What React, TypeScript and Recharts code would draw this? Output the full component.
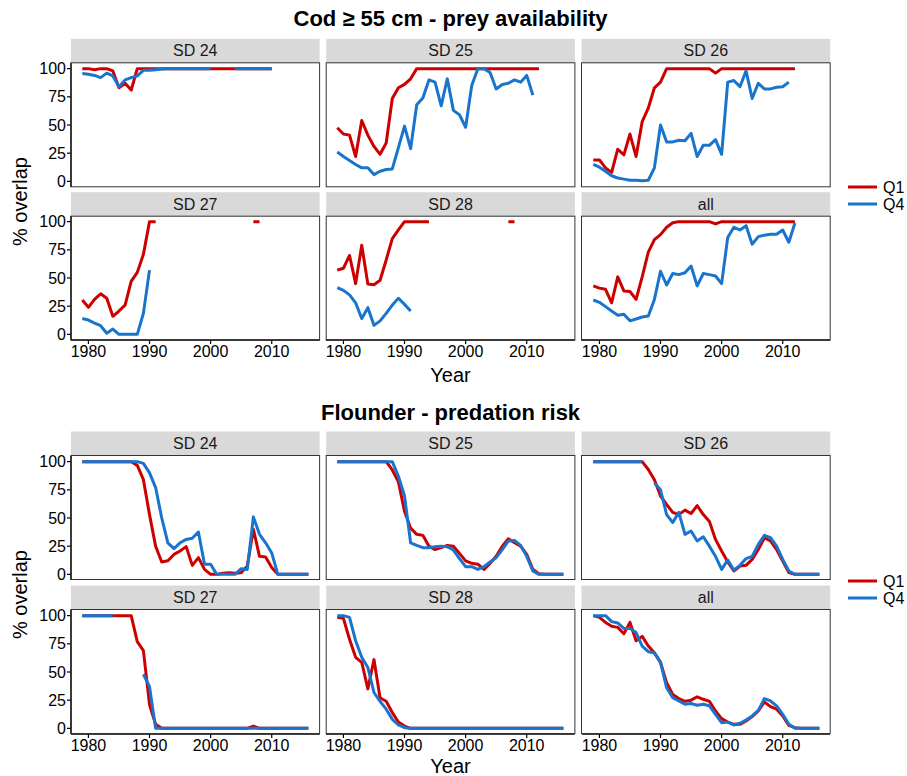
import React from 'react';
import { LineChart, Line, XAxis, YAxis } from 'recharts';

const N = null;

const YEARS = [
  1979, 1980, 1981, 1982, 1983, 1984, 1985, 1986, 1987, 1988,
  1989, 1990, 1991, 1992, 1993, 1994, 1995, 1996, 1997, 1998,
  1999, 2000, 2001, 2002, 2003, 2004, 2005, 2006, 2007, 2008,
  2009, 2010, 2011, 2012, 2013, 2014, 2015, 2016,
];

const FACETS = ['SD 24', 'SD 25', 'SD 26', 'SD 27', 'SD 28', 'all'];
const SERIES_NAMES = ['Q1', 'Q4'];
const X_TICKS = [1980, 1990, 2000, 2010];
const Y_TICKS = [0, 25, 50, 75, 100];
const TITLES = ['Cod \u2265 55 cm - prey availability', 'Flounder - predation risk'];

// ---- Cod >= 55 cm - prey availability (1979..2016) ----
const COD_SD24_Q1 = [100, 100, 99, 100, 100, 98, 83, 87, 81, 100, 100, 100, 100, 100, 100, 100, 100, 100, 100, 100, 100, 100, 100, 100, 100, 100, 100, 100, 100, 100, 100, 100, N, N, N, N, N, N];
const COD_SD24_Q4 = [95.6, 95, 94, 92, 96, 93.5, 84, 90, 92, 93.5, 98.5, 98.5, 99, 99.7, 100, 100, 100, 100, 100, 100, 100, 100, N, N, N, 100, 100, 100, 100, 100, 100, 100, N, N, N, N, N, N];
const COD_SD25_Q1 = [47.6, 42, 41, 22, 54, 41, 31, 24, 34, 73.5, 83, 86, 91, 100, 100, 100, 100, 100, 100, 100, 100, 100, 100, 100, 100, 100, 100, 100, 100, 100, 100, 100, 100, 100, N, N, N, N];
const COD_SD25_Q4 = [26, 22, 18.5, 15, 12, 12, 6, 9, 10.5, 11, 30, 49, 29, 68, 74, 90, 88, 67, 91, 63, 59, 48, 85, 100, 100, 96.5, 82, 86, 87, 90, 88, 94, 76.5, N, N, N, N, N];
const COD_SD26_Q1 = [19, 19, 12, 8, 28.5, 23.5, 42, 22, 53, 65, 83, 88, 100, 100, 100, 100, 100, 100, 100, 100, 96, 100, 100, 100, 100, 100, 100, 100, 100, 100, 100, 100, 100, 100, N, N, N, N];
const COD_SD26_Q4 = [15, 12.6, 9, 5, 3, 2, 1, 1, 0.5, 1, 12, 50, 35, 35, 36.5, 36, 42.6, 22, 32, 32, 37, 24, 88, 89.5, 84, 98, 73.5, 87, 82, 82, 83.5, 84, 88, N, N, N, N, N];
const COD_SD27_Q1 = [30.5, 24, 31, 36, 32, 16, 20.7, 26, 47, 55, 71, 100, 100, N, N, N, N, N, N, N, N, N, N, N, N, N, N, N, 100, 100, N, N, N, N, N, N, N, N];
const COD_SD27_Q4 = [14, 12.7, 10, 7.7, 1, 4.7, 0, 0, 0, 0, 18.6, 57, N, N, N, N, N, N, N, N, N, N, N, N, N, N, N, N, N, N, N, N, N, N, N, N, N, N];
const COD_SD28_Q1 = [57, 58.6, 70, 45, 79, 44.7, 44, 48, 66, 85, 92.6, 100, 100, 100, 100, 100, N, N, N, N, N, N, N, N, N, N, N, N, 100, 100, N, N, N, N, N, N, N, N];
const COD_SD28_Q4 = [41.4, 39, 35, 28, 14, 23.7, 8, 12, 18.6, 26, 32, 26.6, 20.7, N, N, N, N, N, N, N, N, N, N, N, N, N, N, N, N, N, N, N, N, N, N, N, N, N];
const COD_ALL_Q1 = [43, 41, 40, 28, 51, 38.5, 38, 31, 51, 73, 84, 88.5, 95, 99, 100, 100, 100, 100, 100, 100, 98, 100, 100, 100, 100, 100, 100, 100, 100, 100, 100, 100, 100, 100, N, N, N, N];
const COD_ALL_Q4 = [30.5, 28.4, 24.6, 20.7, 17, 17.8, 12, 13.6, 15.4, 16.3, 31, 56, 43.8, 54, 53, 54.7, 60.6, 43, 54, 53, 51.8, 45, 86, 95, 92.6, 96.4, 80, 86.7, 88, 88.8, 88.8, 92.6, 81.7, 98.8, N, N, N, N];

// ---- Flounder - predation risk (1979..2016) ----
const FL_SD24_Q1 = [100, 100, 100, 100, 100, 100, 100, 100, 100, 96.7, 84, 53, 25, 11, 12, 17.7, 20.7, 24.6, 8, 14.8, 4.4, 0, 0, 1, 1.5, 1, 1.5, 7.4, 40, 16, 15.4, 6, 0, 0, 0, 0, 0, 0];
const FL_SD24_Q4 = [100, 100, 100, 100, 100, 100, 100, 100, 100, 100, 98.5, 90, 77, 50, 28, 22.8, 28, 31, 32, 37.6, 9, 9, 0, 0, 0, 0, 5, 4.4, 51, 35.5, 28, 19, 0, 0, 0, 0, 0, 0];
const FL_SD25_Q1 = [100, 100, 100, 100, 100, 100, 100, 100, 100, 92.6, 82, 56, 41, 35.5, 34.6, 25, 22, 23.7, 25.7, 25, 18.6, 12, 9.8, 9, 4.4, 9.8, 16, 25, 31.6, 28, 25, 17.7, 4.4, 0.6, 0, 0, 0, 0];
const FL_SD25_Q4 = [100, 100, 100, 100, 100, 100, 100, 100, 100, 100, 87, 69.5, 28, 25.7, 23.7, 23.7, 24.6, 25, 24.6, 21.6, 14, 6.8, 6.8, 4.4, 6.8, 11, 14.8, 22, 29.6, 30, 25.7, 16, 3, 0, 0, 0, 0, 0];
const FL_SD26_Q1 = [100, 100, 100, 100, 100, 100, 100, 100, 100, 93, 84, 69.5, 62, 55, 53, 57, 54, 61, 53, 47, 31, 20.7, 11, 3, 7.4, 8, 13.3, 22, 32.5, 29.6, 22, 11.8, 1.5, 0, 0, 0, 0, 0];
const FL_SD26_Q4 = [100, 100, 100, 100, 100, 100, 100, 100, 100, N, 81, 75, 53, 46, 55, 35.5, 38.5, 29.6, 33.4, 25, 16, 4.4, 12.7, 3.8, 8, 14, 16, 26.6, 34.6, 32.5, 25, 13.3, 3, 0, 0, 0, 0, 0];
const FL_SD27_Q1 = [100, 100, 100, 100, 100, 100, 100, 100, 100, 77, 69, 21, 3.6, 0, 0, 0, 0, 0, 0, 0, 0, 0, 0, 0, 0, 0, 0, 0, 2, 0, 0, 0, 0, 0, 0, 0, 0, 0];
const FL_SD27_Q4 = [100, 100, 100, 100, 100, 100, N, N, N, N, 48, 37, 0, 0, 0, 0, 0, 0, 0, 0, 0, 0, 0, 0, 0, 0, 0, 0, 0, 0, 0, 0, 0, 0, 0, 0, 0, 0];
const FL_SD28_Q1 = [98.5, 97.6, 79, 63, 58.5, 35, 61, 27, 24, 14, 5.6, 2, 0, 0, 0, 0, 0, 0, 0, 0, 0, 0, 0, 0, 0, 0, 0, 0, 0, 0, 0, 0, 0, 0, 0, 0, 0, 0];
const FL_SD28_Q4 = [100, 100, 98.5, 77.7, 63, 54, 31.8, 24, 17, 8, 3, 0.6, 0, 0, 0, 0, 0, 0, 0, 0, 0, 0, 0, 0, 0, 0, 0, 0, 0, 0, 0, 0, 0, 0, 0, 0, 0, 0];
const FL_ALL_Q1 = [100, 98.5, 94, 90.5, 89.6, 84, 94, 77.7, 81.6, 73, 67, 58.5, 40.6, 30, 26.4, 24, 25, 28, 25.8, 24, 15.4, 8.6, 5.6, 3.6, 3.6, 6.5, 10.4, 15.4, 23.4, 19.3, 17, 11, 2.7, 0.6, 0, 0, 0, 0];
const FL_ALL_Q4 = [100, 100, 100, 94.7, 93.5, 88.7, 88.7, 85, 73, 68, 67, 58.5, 36, 27.3, 24.3, 21.4, 22, 20.5, 21.4, 20, 12.5, 5, 5.6, 3, 4.5, 7.4, 11, 16, 26.4, 24.3, 20, 12.5, 3.6, 0, 0, 0, 0, 0];

const COD = [
  [COD_SD24_Q1, COD_SD24_Q4], [COD_SD25_Q1, COD_SD25_Q4], [COD_SD26_Q1, COD_SD26_Q4],
  [COD_SD27_Q1, COD_SD27_Q4], [COD_SD28_Q1, COD_SD28_Q4], [COD_ALL_Q1, COD_ALL_Q4],
];
const FLOUNDER = [
  [FL_SD24_Q1, FL_SD24_Q4], [FL_SD25_Q1, FL_SD25_Q4], [FL_SD26_Q1, FL_SD26_Q4],
  [FL_SD27_Q1, FL_SD27_Q4], [FL_SD28_Q1, FL_SD28_Q4], [FL_ALL_Q1, FL_ALL_Q4],
];

const RED = '#CD0000';
const BLUE = '#1874CD';
const FONT = '"Liberation Sans", Arial, Helvetica, sans-serif';

const COL_LEFTS = [70.9, 326.2, 581.5];
const PANEL_W = 248.7;
const PANEL_H = 124;
const STRIP_H = 24;
const YW = 60;
const XH = 30;
const TOP_PAD = 12;

const FIGURES = [
  { title: TITLES[0], rows: [62.8, 216.2], titleY: 18, yearY: 375, legendY: [187, 204], data: COD },
  { title: TITLES[1], rows: [455.5, 609.5], titleY: 412, yearY: 766, legendY: [581, 598], data: FLOUNDER },
];

function Panel({ left, top, q1, q4, showY, showX }) {
  const data = YEARS.map((year, i) => ({ year, q1: q1[i], q4: q4[i] }));
  const w = PANEL_W + YW;
  const h = PANEL_H + XH + TOP_PAD;
  return (
    <div style={{ position: 'absolute', left: left - YW, top: top - TOP_PAD, width: w, height: h }}>
      <LineChart width={w} height={h} data={data} margin={{ top: TOP_PAD, right: 0, bottom: 0, left: 0 }}>
        <XAxis
          dataKey="year"
          type="number"
          domain={[1977.15, 2017.85]}
          ticks={X_TICKS}
          interval={0}
          allowDataOverflow
          height={XH}
          tickSize={4}
          tickMargin={2}
          axisLine={showX ? { stroke: '#000', strokeWidth: 1.5 } : false}
          tickLine={showX ? { stroke: '#000', strokeWidth: 1.2 } : false}
          tick={showX ? { fill: '#000', fontSize: 16, fontFamily: FONT } : false}
        />
        <YAxis
          type="number"
          domain={[-5, 105]}
          ticks={Y_TICKS}
          interval={0}
          allowDataOverflow
          width={YW}
          tickSize={4}
          tickMargin={1}
          axisLine={showY ? { stroke: '#000', strokeWidth: 1.5 } : false}
          tickLine={showY ? { stroke: '#000', strokeWidth: 1.2 } : false}
          tick={showY ? { fill: '#000', fontSize: 16, fontFamily: FONT } : false}
        />
        <Line type="linear" dataKey="q1" name={SERIES_NAMES[0]} stroke={RED} strokeWidth={3} dot={false} activeDot={false}
          isAnimationActive={false} connectNulls={false} strokeLinejoin="round" />
        <Line type="linear" dataKey="q4" name={SERIES_NAMES[1]} stroke={BLUE} strokeWidth={3} dot={false} activeDot={false}
          isAnimationActive={false} connectNulls={false} strokeLinejoin="round" />
      </LineChart>
    </div>
  );
}

export default function App() {
  const centerX = (COL_LEFTS[0] + COL_LEFTS[2] + PANEL_W) / 2;
  return (
    <div style={{ position: 'absolute', left: 0, top: 0, width: 907, height: 776, background: '#fff', fontFamily: FONT, overflow: 'hidden' }}>
      <svg width={907} height={776} style={{ position: 'absolute', left: 0, top: 0 }}>
        {FIGURES.map((fig, fi) => {
          const midY = (fig.rows[0] + fig.rows[1] + PANEL_H) / 2;
          return (
            <g key={fi} fontFamily={FONT}>
              <text x={centerX} y={fig.titleY} textAnchor="middle" dominantBaseline="central" fontSize={22} fontWeight="bold" fill="#000">{fig.title}</text>
              <text x={centerX} y={fig.yearY} textAnchor="middle" dominantBaseline="central" fontSize={20} fill="#000">Year</text>
              <text x={20} y={midY} textAnchor="middle" dominantBaseline="central" fontSize={20} fill="#000" transform={`rotate(-90, 20, ${midY})`}>% overlap</text>
              {FACETS.map((f, k) => {
                const r = Math.floor(k / 3);
                const c = k % 3;
                const x = COL_LEFTS[c];
                const y = fig.rows[r] - STRIP_H;
                return (
                  <g key={f}>
                    <rect x={x} y={y} width={PANEL_W} height={STRIP_H} fill="#D9D9D9" />
                    <text x={x + PANEL_W / 2} y={y + STRIP_H / 2} textAnchor="middle" dominantBaseline="central" fontSize={16} fill="#1a1a1a">{f}</text>
                  </g>
                );
              })}
              {SERIES_NAMES.map((s, si) => (
                <g key={s}>
                  <line x1={848} x2={877} y1={fig.legendY[si]} y2={fig.legendY[si]} stroke={si === 0 ? RED : BLUE} strokeWidth={3} />
                  <text x={883} y={fig.legendY[si]} dominantBaseline="central" fontSize={16} fill="#000">{s}</text>
                </g>
              ))}
            </g>
          );
        })}
      </svg>
      {FIGURES.map((fig, fi) =>
        fig.data.map((pair, k) => {
          const r = Math.floor(k / 3);
          const c = k % 3;
          return (
            <Panel key={`${fi}-${k}`} left={COL_LEFTS[c]} top={fig.rows[r]} q1={pair[0]} q4={pair[1]} showY={c === 0} showX={r === 1} />
          );
        })
      )}
      <svg width={907} height={776} style={{ position: 'absolute', left: 0, top: 0, pointerEvents: 'none' }}>
        {FIGURES.map((fig, fi) =>
          FACETS.map((f, k) => {
            const r = Math.floor(k / 3);
            const c = k % 3;
            return (
              <rect key={`${fi}-${k}`} x={COL_LEFTS[c]} y={fig.rows[r]} width={PANEL_W} height={PANEL_H} fill="none" stroke="#333" strokeWidth={1} />
            );
          })
        )}
      </svg>
    </div>
  );
}
